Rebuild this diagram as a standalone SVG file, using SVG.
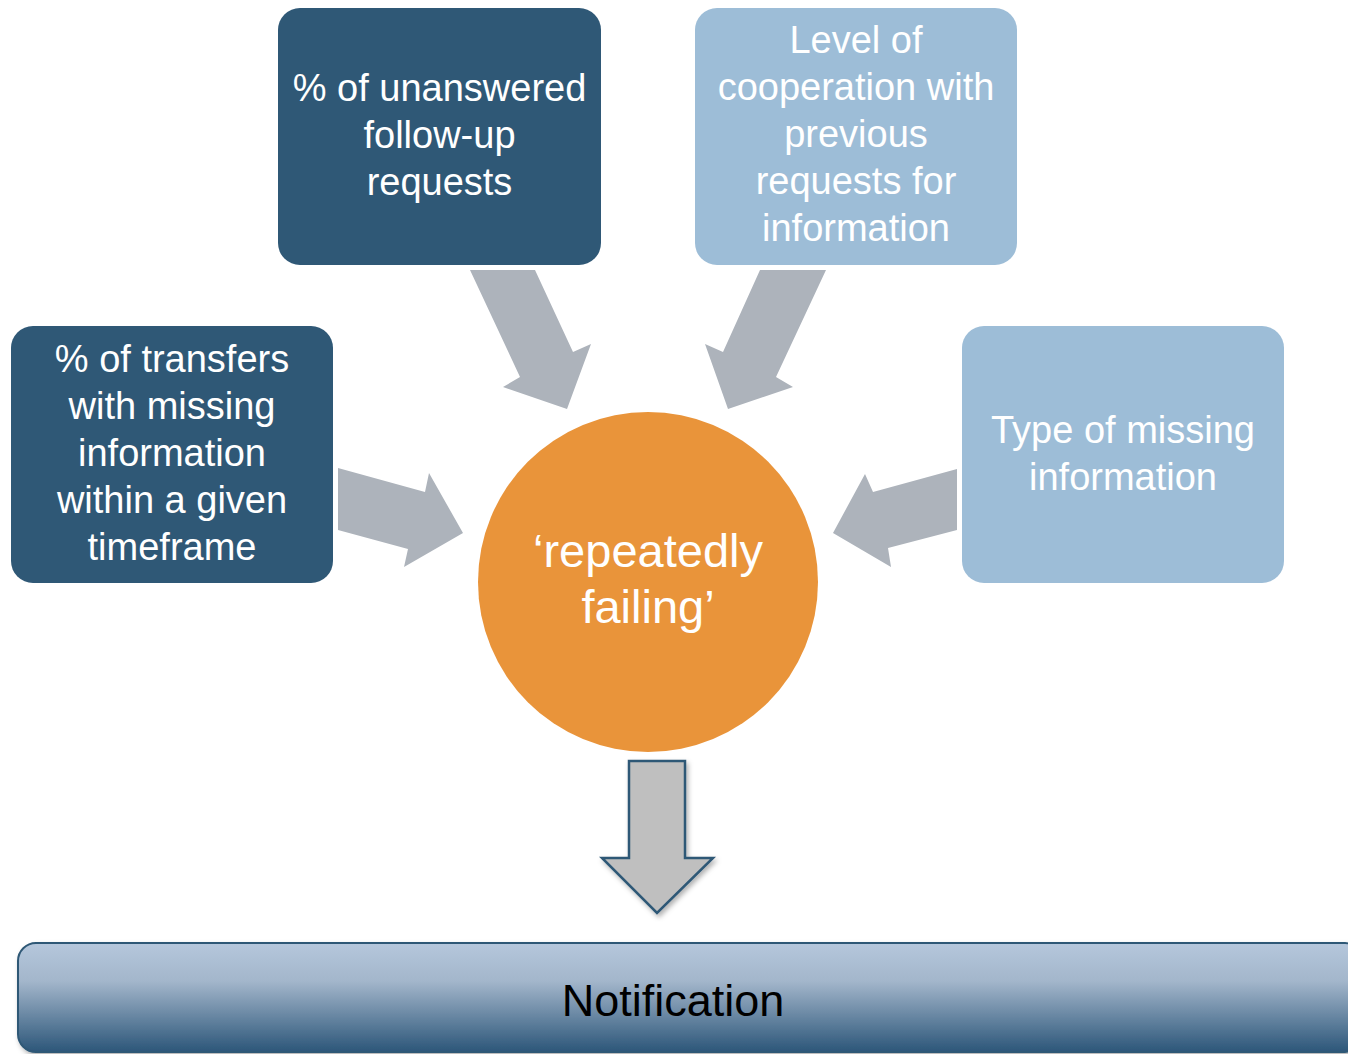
<svg xmlns="http://www.w3.org/2000/svg" width="1348" height="1054" viewBox="0 0 1348 1054">
<style>
.dark{fill:#2f5876}
.light{fill:#9dbdd7}
.t{font-family:"Liberation Sans",Arial,sans-serif;font-size:38px;fill:#ffffff;text-anchor:middle}
.c{font-family:"Liberation Sans",Arial,sans-serif;font-size:47px;fill:#ffffff;text-anchor:middle}
.n{font-family:"Liberation Sans",Arial,sans-serif;font-size:45px;fill:#000000;text-anchor:middle}
.arr{fill:#adb3bb}
</style>
<defs>
<linearGradient id="bar" x1="0" y1="0" x2="0" y2="1">
<stop offset="0" stop-color="#b5c7dc"/>
<stop offset="0.35" stop-color="#a3b6cb"/>
<stop offset="1" stop-color="#2c5679"/>
</linearGradient>
<filter id="sh" x="-10%" y="-10%" width="130%" height="130%">
<feDropShadow dx="2" dy="3" stdDeviation="2.5" flood-color="#000" flood-opacity="0.3"/>
</filter>
</defs>
<g id="connectors">
<polygon class="arr" points="470,270 535,270 573,352 591,344 567,409 503,387 520,377"/>
<polygon class="arr" points="760,270 826,270 776,377 793,387 728,409 705,344 723,352"/>
<polygon class="arr" points="338,468 425,492 429,473 463,533 404,567 408,549 338,530"/>
<polygon class="arr" points="957,469 873,492 865,474 833,533 891,567 888,548 957,530"/>
<polygon points="629,761 685,761 685,858 713,858 657,913 602,858 629,858" fill="#bfbfbf" stroke="#2f5876" stroke-width="2.5" stroke-linejoin="miter" filter="url(#sh)"/>
</g>
<g id="node-unanswered">
<rect class="dark" x="278" y="8" width="323" height="257" rx="22"/>
<text class="t" x="439.5" y="101">% of unanswered</text>
<text class="t" x="439.5" y="148">follow-up</text>
<text class="t" x="439.5" y="195">requests</text>
</g>
<g id="node-cooperation">
<rect class="light" x="695" y="8" width="322" height="257" rx="22"/>
<text class="t" x="856" y="53">Level of</text>
<text class="t" x="856" y="100">cooperation with</text>
<text class="t" x="856" y="147">previous</text>
<text class="t" x="856" y="194">requests for</text>
<text class="t" x="856" y="241">information</text>
</g>
<g id="node-transfers">
<rect class="dark" x="11" y="326" width="322" height="257" rx="22"/>
<text class="t" x="172" y="372">% of transfers</text>
<text class="t" x="172" y="419">with missing</text>
<text class="t" x="172" y="466">information</text>
<text class="t" x="172" y="513">within a given</text>
<text class="t" x="172" y="560">timeframe</text>
</g>
<g id="node-type">
<rect class="light" x="962" y="326" width="322" height="257" rx="22"/>
<text class="t" x="1123" y="443">Type of missing</text>
<text class="t" x="1123" y="490">information</text>
</g>
<g id="node-failing">
<circle cx="648" cy="582" r="170" fill="#e9943a"/>
<text class="c" x="648" y="567">‘repeatedly</text>
<text class="c" x="648" y="623">failing’</text>
</g>
<g id="node-notification">
<rect x="18" y="943" width="1345" height="109" rx="18" fill="url(#bar)" stroke="#2f5876" stroke-width="2" filter="url(#sh)"/>
<text class="n" x="673" y="1016">Notification</text>
</g>
</svg>
